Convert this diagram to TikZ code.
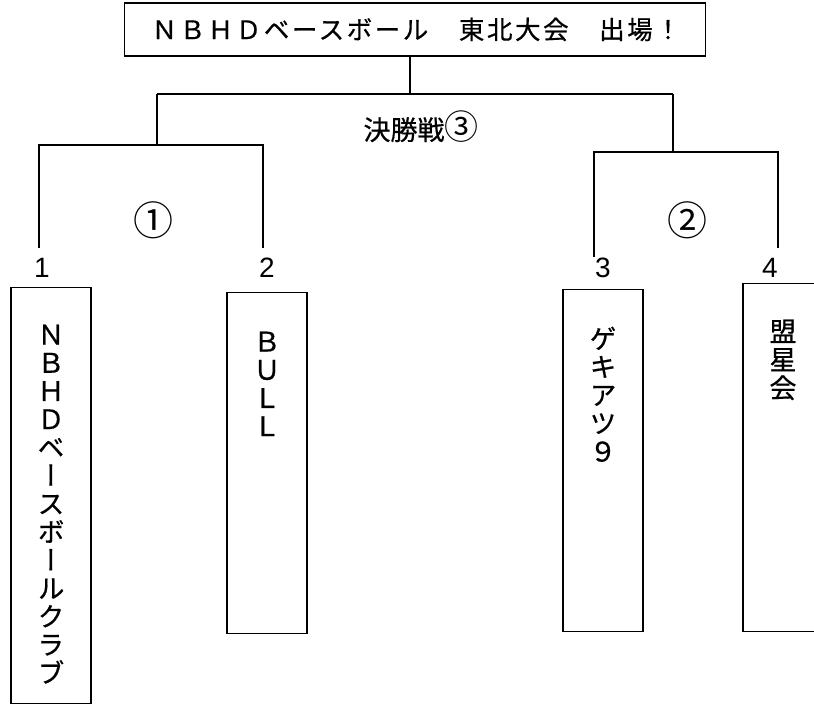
\documentclass[tikz,border=0pt]{standalone}
\usepackage{fontspec}
\setmainfont{Liberation Sans}
\newfontfamily\jptitle[LetterSpace=10,FakeBold=0.6]{Noto Sans CJK JP}
\newfontfamily\jpvert[RawFeature=+vert,FakeBold=0.6]{Noto Sans CJK JP}
\newfontfamily\jpbold[FakeBold=0.6]{Noto Sans CJK JP}
\newfontfamily\jpplain{Noto Sans CJK JP}
\begin{document}
\begin{tikzpicture}[x=1pt,y=-1pt,line width=1.4pt,
  teambox/.style={draw,line width=1.4pt,rectangle,anchor=north,minimum width=80pt,inner sep=0pt},
  vtext/.style={anchor=north,align=center,inner sep=0pt,font=\jpvert\fontsize{27}{28.2}\selectfont},
  seed/.style={font=\fontsize{28}{28}\selectfont,inner sep=0pt},
  roundlbl/.style={font=\jpplain\fontsize{40}{40}\selectfont,inner sep=0pt},
  bracket/.style={line width=1.4pt}]
\useasboundingbox (0,0) rectangle (814,704);
% title
\node[draw,line width=1.4pt,minimum width=581pt,minimum height=53pt,inner sep=0pt,
      font=\jptitle\fontsize{25.5}{25.5}\selectfont] (title) at (415,29.5)
      {\hspace{2.5pt}ＮＢＨＤベースボール　東北大会　出場！};
% coordinates of bracket
\coordinate (j0) at (410,94);
\coordinate (fL) at (157,94);
\coordinate (fR) at (673,94);
\coordinate (s1) at (157,145);
\coordinate (s2) at (673,153);
\coordinate (a1) at (39,145);
\coordinate (a2) at (263,145);
\coordinate (a1e) at (39,248);
\coordinate (a2e) at (263,248);
\coordinate (b1) at (594,152);
\coordinate (b2) at (778,152);
\coordinate (b1e) at (594,257);
\coordinate (b2e) at (778,248);
\draw[bracket] (title.south -| j0) -- (j0);
\draw[bracket] (fL) -- (fR);
\draw[bracket] (fL) -- (s1);
\draw[bracket] (fR) -- (s2);
\draw[bracket] (a1e) -- (a1) -- (a2) -- (a2e);
\draw[bracket] (b1e) -- (b1) -- (b2) -- (b2e);
% round labels
\node[font=\jpbold\fontsize{27}{27}\selectfont,inner sep=0pt] (final) at (421,127)
  {決勝戦{\jpplain\fontsize{34}{34}\selectfont ③}};
\node[roundlbl] (r1) at (153,220) {①};
\node[roundlbl] (r2) at (687,220) {②};
% seeds
\node[seed] (n1) at (42,268) {1};
\node[seed] (n2) at (267,268) {2};
\node[seed] (n3) at (603,268) {3};
\node[seed] (n4) at (770,268) {4};
% team boxes
\node[teambox,minimum height=416pt] (t1) at (51,287) {};
\node[teambox,minimum height=341pt] (t2) at (267,292) {};
\node[teambox,minimum height=342pt] (t3) at (603,289) {};
\node[teambox,minimum height=348pt] (t4) at (783,283) {};
\node[vtext] (x1) at ([yshift=-37pt]t1.north) {Ｎ\\Ｂ\\Ｈ\\Ｄ\\ベ\\ー\\ス\\ボ\\ー\\ル\\ク\\ラ\\ブ};
\node[vtext] (x2) at ([yshift=-39pt]t2.north) {Ｂ\\Ｕ\\Ｌ\\Ｌ};
\node[vtext] (x3) at ([yshift=-37pt]t3.north) {ゲ\\キ\\ア\\ツ\\９};
\node[vtext] (x4) at ([yshift=-36pt]t4.north) {盟\\星\\会};
\end{tikzpicture}
\end{document}
